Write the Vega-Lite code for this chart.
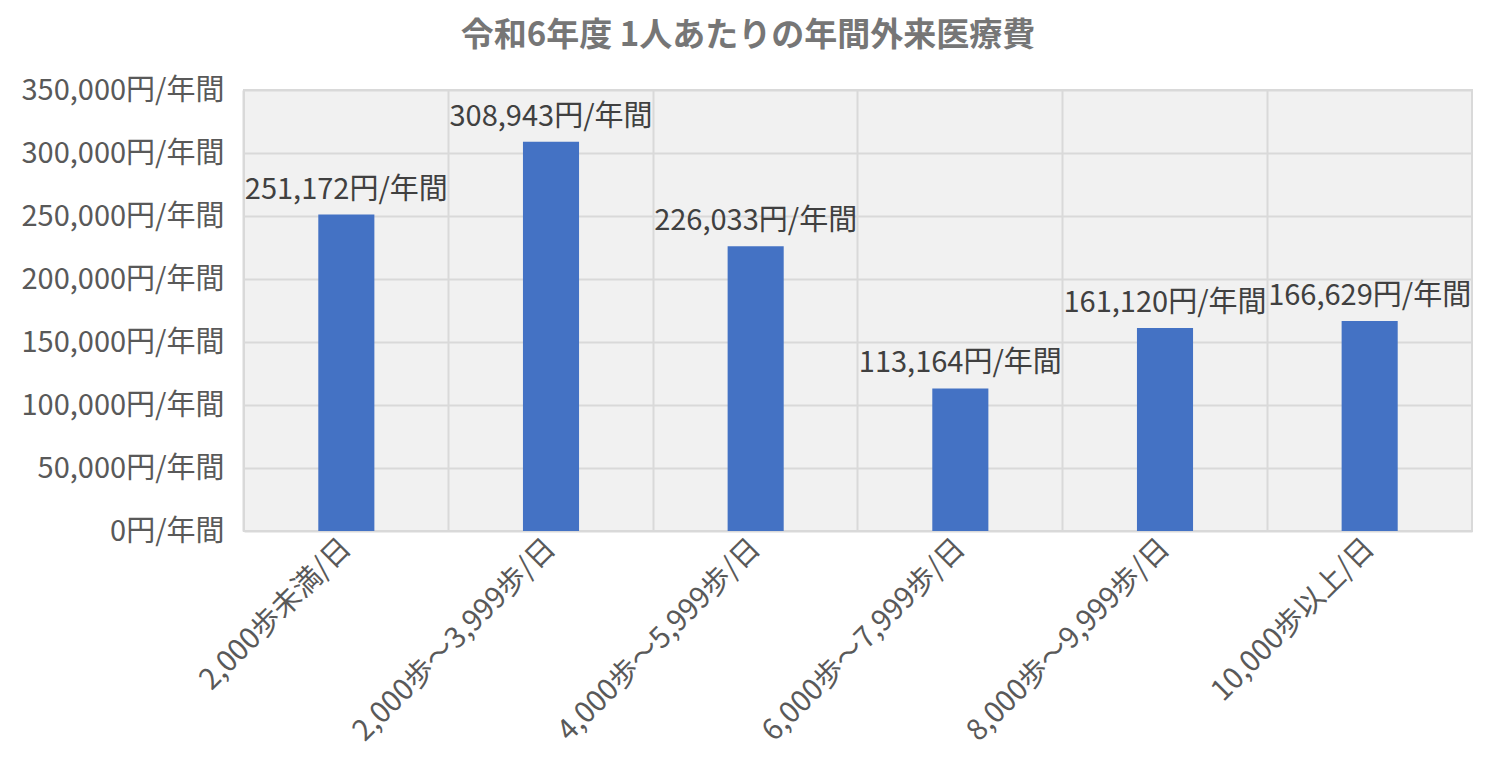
{
  "$schema": "https://vega.github.io/schema/vega-lite/v6.json",
  "width": 1228,
  "height": 441,
  "autosize": {"type": "none"},
  "padding": {"left": 244, "top": 90, "right": 24, "bottom": 251},
  "config": {
    "background": "white",
    "font": "Noto Sans CJK JP",
    "view": {"fill": "#f1f1f1", "stroke": "#d9d9d9", "strokeWidth": 2}
  },
  "title": {
    "text": "令和6年度 1人あたりの年間外来医療費",
    "font": "Noto Sans CJK JP",
    "fontSize": 33,
    "fontWeight": "bold",
    "color": "#767676",
    "anchor": "middle",
    "frame": "group",
    "dx": -110,
    "dy": 29,
    "baseline": "alphabetic",
    "offset": 26
  },
  "data": {
    "values": [
      {"group": "2,000歩未満/日", "cost": 251172},
      {"group": "2,000歩～3,999歩/日", "cost": 308943},
      {"group": "4,000歩～5,999歩/日", "cost": 226033},
      {"group": "6,000歩～7,999歩/日", "cost": 113164},
      {"group": "8,000歩～9,999歩/日", "cost": 161120},
      {"group": "10,000歩以上/日", "cost": 166629}
    ]
  },
  "encoding": {
    "y": {
      "field": "cost",
      "type": "quantitative",
      "title": null,
      "scale": {"domain": [0, 350000], "nice": false},
      "axis": {
        "values": [0, 50000, 100000, 150000, 200000, 250000, 300000, 350000],
        "labelExpr": "format(datum.value, ',') + '円/年間'",
        "gridColor": "#d9d9d9",
        "gridWidth": 2,
        "domain": false,
        "ticks": false,
        "labelPadding": 20,
        "labelLimit": 400,
        "labelFontSize": 29,
        "labelColor": "#595959",
        "labelFont": "Noto Sans CJK JP"
      }
    }
  },
  "layer": [
    {
      "mark": {"type": "bar", "color": "#4472c4"},
      "encoding": {
        "x": {
          "field": "group",
          "type": "nominal",
          "sort": null,
          "title": null,
          "scale": {"paddingInner": 0.726, "paddingOuter": 0.363},
          "axis": {
            "orient": "bottom",
            "grid": false,
            "domain": false,
            "ticks": false,
            "labelAngle": -45,
            "labelAlign": "right",
            "labelBaseline": "middle",
            "labelPadding": 12,
            "labelLimit": 400,
            "labelFontSize": 29,
            "labelColor": "#595959",
            "labelFont": "Noto Sans CJK JP"
          }
        }
      }
    },
    {
      "mark": {
        "type": "text",
        "baseline": "alphabetic",
        "dy": -16,
        "fontSize": 29,
        "color": "#404040",
        "font": "Noto Sans CJK JP",
        "text": {"expr": "format(datum.cost, ',') + '円/年間'"}
      },
      "encoding": {
        "x": {
          "field": "group",
          "type": "nominal",
          "sort": null,
          "title": null,
          "axis": {
            "orient": "top",
            "bandPosition": -1.325,
            "grid": true,
            "gridColor": "#d9d9d9",
            "gridWidth": 2,
            "labels": false,
            "domain": false,
            "ticks": false
          }
        }
      }
    }
  ],
  "resolve": {"axis": {"x": "independent"}}
}
